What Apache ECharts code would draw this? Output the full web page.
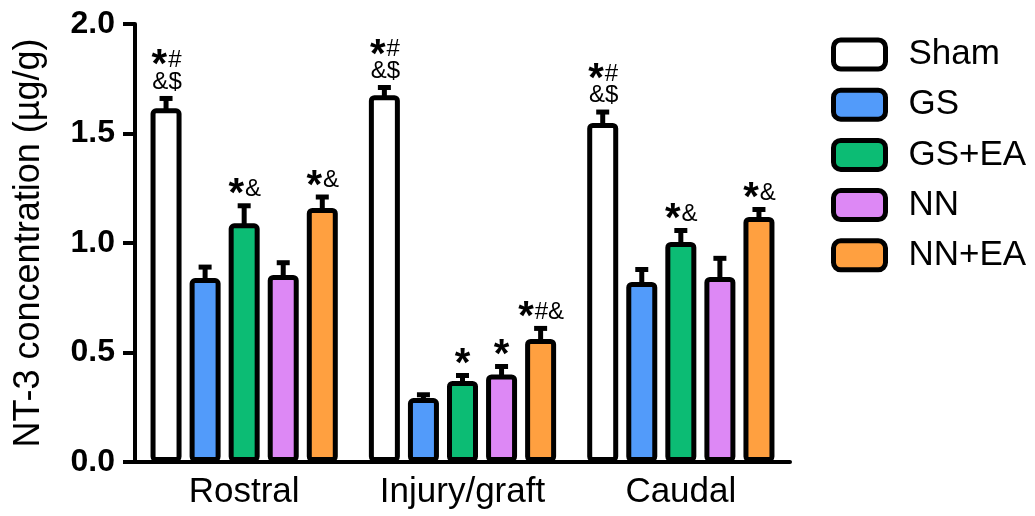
<!DOCTYPE html>
<html>
<head>
<meta charset="utf-8">
<script src="https://cdn.jsdelivr.net/npm/echarts@6/dist/echarts.min.js"></script>
<style>
  html, body { margin: 0; padding: 0; background: #fff; }
  #chart { width: 1035px; height: 516px; }
</style>
</head>
<body>
<div id="chart"></div>
<script>
const FONT = 'Arial, "Liberation Sans", sans-serif';

const categories = ["Rostral", "Injury/graft", "Caudal"];
const groups = ["Sham", "GS", "GS+EA", "NN", "NN+EA"];
const colors = ["#ffffff", "#529bfa", "#0cbc74", "#dd88f5", "#ffa040"];

// means
const sham = [1.615, 1.675, 1.548];
const gs = [0.84, 0.292, 0.822];
const gsEa = [1.09, 0.37, 1.005];
const nn = [0.854, 0.40, 0.845];
const nnEa = [1.16, 0.562, 1.119];

// SEM (upper error bar only)
const shamSem = [0.045, 0.035, 0.05];
const gsSem = [0.05, 0.015, 0.057];
const gsEaSem = [0.08, 0.025, 0.052];
const nnSem = [0.056, 0.036, 0.085];
const nnEaSem = [0.05, 0.048, 0.034];

// significance marks
const shamMarks = ["*#\n&$", "*#\n&$", "*#\n&$"];
const gsMarks = ["", "", ""];
const gsEaMarks = ["*&", "*", "*&"];
const nnMarks = ["", "*", ""];
const nnEaMarks = ["*&", "*#&", "*&"];

const yTicks = [0, 0.5, 1.0, 1.5, 2.0];

const means = [sham, gs, gsEa, nn, nnEa];
const sems = [shamSem, gsSem, gsEaSem, nnSem, nnEaSem];
const marks = [shamMarks, gsMarks, gsEaMarks, nnMarks, nnEaMarks];

const BAR_W = 31;
const BAR_GAP = 0.26;
const STAR_SIZE = 40;
const SYM_SIZE = 24;

const measureCtx = document.createElement("canvas").getContext("2d");
function textWidth (txt, size, weight) {
	measureCtx.font = `${weight} ${size}px ${FONT}`;
	return measureCtx.measureText(txt).width;
}

function markElements (mark, cx, capTop) {
	if (!mark) return [];
	const lines = mark.split("\n");
	const els = [];
	lines.forEach((line, i) => {
		const cy = capTop - 14 - (lines.length - 1 - i) * 21.5;
		const star = line.startsWith("*") ? "*" : "";
		const rest = star ? line.slice(1) : line;
		const ws = star ? textWidth(star, STAR_SIZE, "bold") : 0;
		const wr = rest ? textWidth(rest, SYM_SIZE, "normal") : 0;
		const x0 = cx - (ws + wr) / 2;
		if (star) {
			els.push({
				type: "text",
				style: {
					text: star, x: x0, y: cy + 6,
					align: "left", verticalAlign: "middle",
					font: `bold ${STAR_SIZE}px ${FONT}`, fill: "#000"
				}
			});
		}
		if (rest) {
			els.push({
				type: "text",
				style: {
					text: rest, x: x0 + ws + 1, y: cy,
					align: "left", verticalAlign: "middle",
					font: `normal ${SYM_SIZE}px ${FONT}`, fill: "#000"
				}
			});
		}
	});
	return els;
}

const chart = echarts.init(document.getElementById("chart"));

const barSeries = groups.map((g, k) => ({
	name: g,
	type: "bar",
	data: means[k],
	barWidth: BAR_W,
	barGap: (BAR_GAP * 100) + "%",
	itemStyle: {
		color: colors[k],
		borderColor: "#000",
		borderWidth: 5,
		borderRadius: 3
	},
	z: 2
}));

const errSeries = groups.map((g, k) => ({
	name: g + " err",
	type: "custom",
	z: 3,
	data: means[k].map((m, i) => [i, m, m + sems[k][i]]),
	renderItem: (params, api) => {
		const base = api.coord([api.value(0), api.value(1)]);
		const top = api.coord([api.value(0), api.value(2)]);
		const x = base[0] + (k - 2) * BAR_W * (1 + BAR_GAP);
		const children = [{
			type: "rect",
			shape: { x: x - 2.5, y: top[1], width: 5, height: base[1] - top[1] + 2 },
			style: { fill: "#000" }
		}, {
			type: "rect",
			shape: { x: x - 6.5, y: top[1] - 2.5, width: 13, height: 5 },
			style: { fill: "#000" }
		}].concat(markElements(marks[k][params.dataIndex], x, top[1] - 2.5));
		return { type: "group", children };
	}
}));

option = {
	animation: false,
	textStyle: { fontFamily: FONT },
	legend: {
		data: groups,
		orient: "vertical",
		left: 831,
		top: 37,
		padding: 0,
		itemWidth: 52,
		itemHeight: 29,
		itemGap: 15.2,
		icon: "roundRect",
		itemStyle: { borderColor: "#000", borderWidth: 5 },
		textStyle: {
			fontSize: 35,
			color: "#000",
			fontFamily: FONT,
			lineHeight: 35,
			padding: [0, 0, 0, 18]
		}
	},
	grid: {
		left: 135,
		right: 245,
		top: 24,
		bottom: 54
	},
	xAxis: {
		type: "category",
		data: categories,
		axisLine: { lineStyle: { color: "#000", width: 4 } },
		axisTick: { alignWithLabel: true, length: 10, lineStyle: { color: "#000", width: 4 } },
		axisLabel: { fontSize: 35, color: "#000", margin: 13, fontFamily: FONT }
	},
	yAxis: {
		type: "value",
		min: yTicks[0],
		max: yTicks[yTicks.length - 1],
		interval: 0.5,
		name: "NT-3 concentration (µg/g)",
		nameLocation: "middle",
		nameGap: 88,
		nameTextStyle: { fontSize: 36, color: "#000", fontFamily: FONT },
		axisLine: { show: true, lineStyle: { color: "#000", width: 4 } },
		axisTick: { show: true, length: 12, lineStyle: { color: "#000", width: 4 } },
		splitLine: { show: false },
		axisLabel: {
			fontSize: 32,
			fontWeight: "bold",
			color: "#000",
			margin: 20,
			fontFamily: FONT,
			formatter: v => v.toFixed(1)
		}
	},
	series: barSeries.concat(errSeries)
};

chart.setOption(option);
window.onresize = chart.resize;
</script>
</body>
</html>
